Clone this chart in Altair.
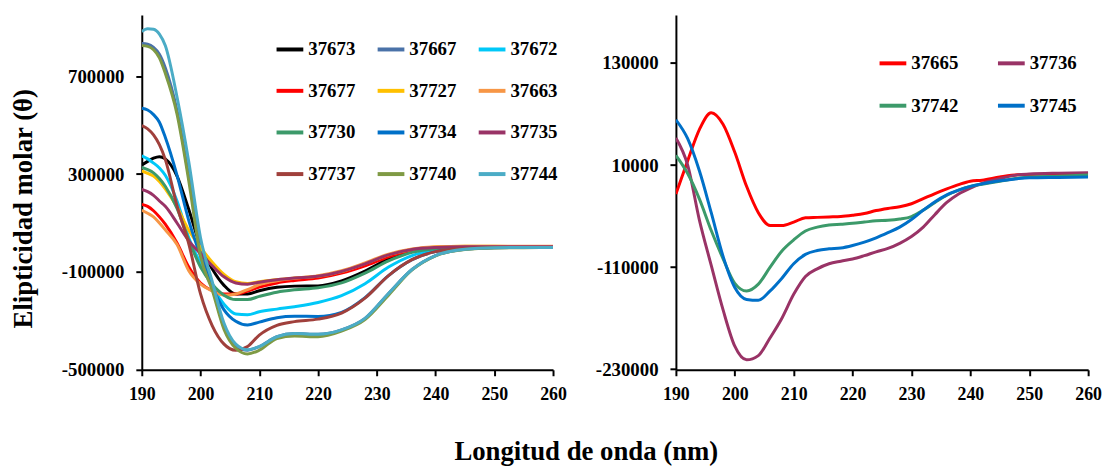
import altair as alt
import pandas as pd

# ---------------- data (left panel) ----------------
nm_left = [190, 191, 192, 193, 194, 196, 198, 200, 202, 204, 206, 208, 210,
           213, 216, 220, 224, 228, 232, 236, 240, 245, 250, 255, 260]

names_left = ["37673", "37667", "37672", "37677", "37727", "37663",
              "37730", "37734", "37735", "37737", "37740", "37744"]
colors_left = ["#000000", "#4A72A8", "#00C8F8", "#FF0000", "#FFC000", "#F79646",
               "#3C9A6A", "#0070C8", "#993366", "#A0403C", "#7F9A44", "#4BACC6"]

s37673 = [337000, 352000, 365000, 371000, 362000, 292000, 155000, 5000, -88000, -155000, -190000, -190000, -177000,
          -163000, -158000, -157000, -137000, -97000, -47000, -16000, -4000, 0, 0, 0, 0]
s37667 = [834000, 831000, 818000, 790000, 735000, 560000, 290000, 0, -160000, -325000, -403000, -420000, -405000,
          -365000, -352000, -355000, -337000, -290000, -188000, -90000, -33000, -7000, -1000, 0, 0]
s37672 = [374000, 362000, 345000, 325000, 295000, 190000, 40000, -65000, -160000, -232000, -272000, -275000, -263000,
          -252000, -242000, -225000, -197000, -148000, -80000, -33000, -10000, -2000, 0, 0, 0]
s37677 = [176000, 168000, 150000, 125000, 95000, 18000, -80000, -145000, -177000, -190000, -190000, -178000, -162000,
          -145000, -135000, -125000, -105000, -75000, -38000, -12000, -2000, 0, 0, 0, 0]
s37727 = [313000, 303000, 292000, 270000, 240000, 165000, 70000, 0, -60000, -110000, -140000, -147000, -140000,
          -131000, -125000, -118000, -98000, -66000, -30000, -8000, 2000, 5000, 5000, 4000, 4000]
s37663 = [152000, 140000, 125000, 100000, 72000, 12000, -95000, -150000, -178000, -195000, -190000, -172000, -152000,
          -136000, -126000, -115000, -95000, -63000, -27000, -6000, 3000, 5000, 5000, 5000, 5000]
s37730 = [327000, 318000, 305000, 282000, 250000, 160000, 30000, -80000, -150000, -195000, -213000, -213000, -200000,
          -183000, -173000, -165000, -145000, -105000, -55000, -20000, -5000, 0, 0, 0, 0]
s37734 = [569000, 562000, 543000, 512000, 450000, 295000, 110000, -35000, -160000, -255000, -302000, -317000, -305000,
          -287000, -281000, -282000, -265000, -205000, -115000, -50000, -17000, -4000, 0, 0, 0]
s37735 = [237000, 228000, 213000, 190000, 168000, 100000, 27000, -25000, -75000, -120000, -145000, -150000, -142000,
          -132000, -125000, -118000, -98000, -67000, -30000, -8000, 0, 3000, 3000, 3000, 3000]
s37737 = [498000, 485000, 460000, 420000, 360000, 170000, 15000, -190000, -320000, -395000, -420000, -405000, -358000,
          -318000, -303000, -293000, -268000, -207000, -115000, -50000, -17000, -4000, 0, 0, 0]
s37740 = [825000, 822000, 808000, 775000, 712000, 545000, 272000, -35000, -175000, -335000, -412000, -435000, -420000,
          -372000, -362000, -365000, -342000, -295000, -195000, -92000, -34000, -8000, -2000, -1000, 0]
s37744 = [883000, 894000, 892000, 872000, 825000, 615000, 350000, 40000, -140000, -310000, -395000, -418000, -405000,
          -365000, -352000, -355000, -337000, -290000, -188000, -90000, -33000, -7000, -1000, 0, 0]

series_left = [s37673, s37667, s37672, s37677, s37727, s37663,
               s37730, s37734, s37735, s37737, s37740, s37744]

# ---------------- data (right panel) ----------------
nm_right = [190, 192, 194, 196, 198, 200, 202, 204, 206, 208, 210, 212, 214, 216, 218, 220,
            222, 224, 226, 228, 230, 232, 234, 236, 238, 240, 242, 245, 248, 250, 255, 260]

names_right = ["37665", "37736", "37742", "37745"]
colors_right = ["#FF0000", "#993366", "#3C9A6A", "#0070C8"]

s37665 = [-24000, 15000, 52000, 71500, 58000, 25000, -15000, -46000, -61000, -61000, -57000, -52000, -51500, -51000,
          -50500, -49000, -47000, -43500, -41000, -39000, -35500, -29500, -23500, -18000, -13000, -9000, -7800,
          -4000, -1300, -1000, -500, 0]
s37736 = [41800, 10000, -55000, -108000, -160000, -203000, -219000, -214000, -193000, -170000, -142000, -121000,
          -112000, -106000, -103000, -100500, -96500, -92000, -88000, -82000, -74000, -63000, -48000, -34000,
          -24000, -17000, -11500, -6000, -1500, -500, 500, 1000]
s37742 = [21300, 0, -30000, -67000, -100000, -129000, -138000, -130000, -110000, -91000, -78000, -67500, -63000,
          -60500, -59500, -58500, -57000, -55500, -55000, -53500, -50500, -43000, -34000, -25500, -19500, -15000,
          -12500, -9000, -5500, -4000, -3000, -1600]
s37745 = [63200, 41000, 3000, -46000, -97000, -134000, -148000, -149000, -138000, -123000, -106000, -95000, -90500,
          -88500, -87500, -84500, -80500, -75500, -69500, -63000, -54000, -43000, -33000, -25000, -19500, -15000,
          -12000, -8500, -6000, -5000, -4500, -4000]

series_right = [s37665, s37736, s37742, s37745]

FONT = "Liberation Serif"


def long_df(nm, names, series):
    rows = []
    for name, vals in zip(names, series):
        for x, v in zip(nm, vals):
            rows.append({"nm": x, "val": v, "serie": name})
    return pd.DataFrame(rows)


def column_major(names, ncols):
    # Vega fills legend columns top-to-bottom; reorder so the grid reads row by row
    nrows = -(-len(names) // ncols)
    return [names[r * ncols + c] for c in range(ncols) for r in range(nrows) if r * ncols + c < len(names)]


df_left = long_df(nm_left, names_left, series_left)
df_right = long_df(nm_right, names_right, series_right)

order_left = column_major(names_left, 3)
order_right = column_major(names_right, 2)
col_left = [colors_left[names_left.index(n)] for n in order_left]
col_right = [colors_right[names_right.index(n)] for n in order_right]

x_axis = alt.Axis(values=list(range(190, 261, 10)), title=None, labelFontSize=18,
                  labelPadding=10, labelFlush=False)


def legend(x, y, ncols, col_pad, row_pad):
    return alt.Legend(orient="none", legendX=x, legendY=y, columns=ncols,
                      title=None, symbolType="stroke", symbolSize=729, symbolStrokeWidth=4,
                      labelOffset=3, columnPadding=col_pad, rowPadding=row_pad,
                      labelFontSize=19, labelFont=FONT, labelFontWeight="bold",
                      labelColor="black", padding=0)


left = alt.Chart(df_left).mark_line(strokeWidth=3, interpolate="monotone", clip=True).encode(
    x=alt.X("nm:Q", scale=alt.Scale(domain=[190, 260], nice=False, zero=False), axis=x_axis),
    y=alt.Y("val:Q", scale=alt.Scale(domain=[-500000, 950000], nice=False, zero=False),
            axis=alt.Axis(values=[-500000, -100000, 300000, 700000],
                          title="Elipticidad molar (θ)", labelExpr="'' + datum.value",
                          titlePadding=24, titleY=195, titleFontSize=27)),
    color=alt.Color("serie:N", scale=alt.Scale(domain=order_left, range=col_left),
                    sort=order_left, legend=legend(134, 19, 3, 14, 16)),
).properties(width=415, height=358)

right = alt.Chart(df_right).mark_line(strokeWidth=3, interpolate="monotone", clip=True).encode(
    x=alt.X("nm:Q", scale=alt.Scale(domain=[190, 260], nice=False, zero=False), axis=x_axis),
    y=alt.Y("val:Q", scale=alt.Scale(domain=[-230700, 186400], nice=False, zero=False),
            axis=alt.Axis(values=[-230000, -110000, 10000, 130000], title=None,
                          labelExpr="'' + datum.value")),
    color=alt.Color("serie:N", scale=alt.Scale(domain=order_right, range=col_right),
                    sort=order_right, legend=legend(203.5, 33, 2, 31.5, 17)),
).properties(width=416, height=358)

chart = alt.hconcat(left, right, spacing=28).resolve_scale(color="independent").resolve_legend(
    color="independent"
).properties(
    title=alt.TitleParams("Longitud de onda (nm)", orient="bottom", anchor="middle",
                          fontSize=27, font=FONT, fontWeight="bold", color="black",
                          offset=36.5, dx=31),
    padding={"left": 1, "top": 5, "right": 2, "bottom": 0},
    background="white",
).configure_view(stroke=None).configure_axis(
    domainColor="black", domainWidth=2, tickColor="black", tickWidth=2, tickSize=6,
    labelFont=FONT, labelFontWeight="bold", labelFontSize=19, labelColor="black",
    labelPadding=12, titleFont=FONT, titleFontWeight="bold", titleColor="black",
    grid=False,
)

chart.save("out.html", embed_options={"renderer": "svg", "actions": False})
